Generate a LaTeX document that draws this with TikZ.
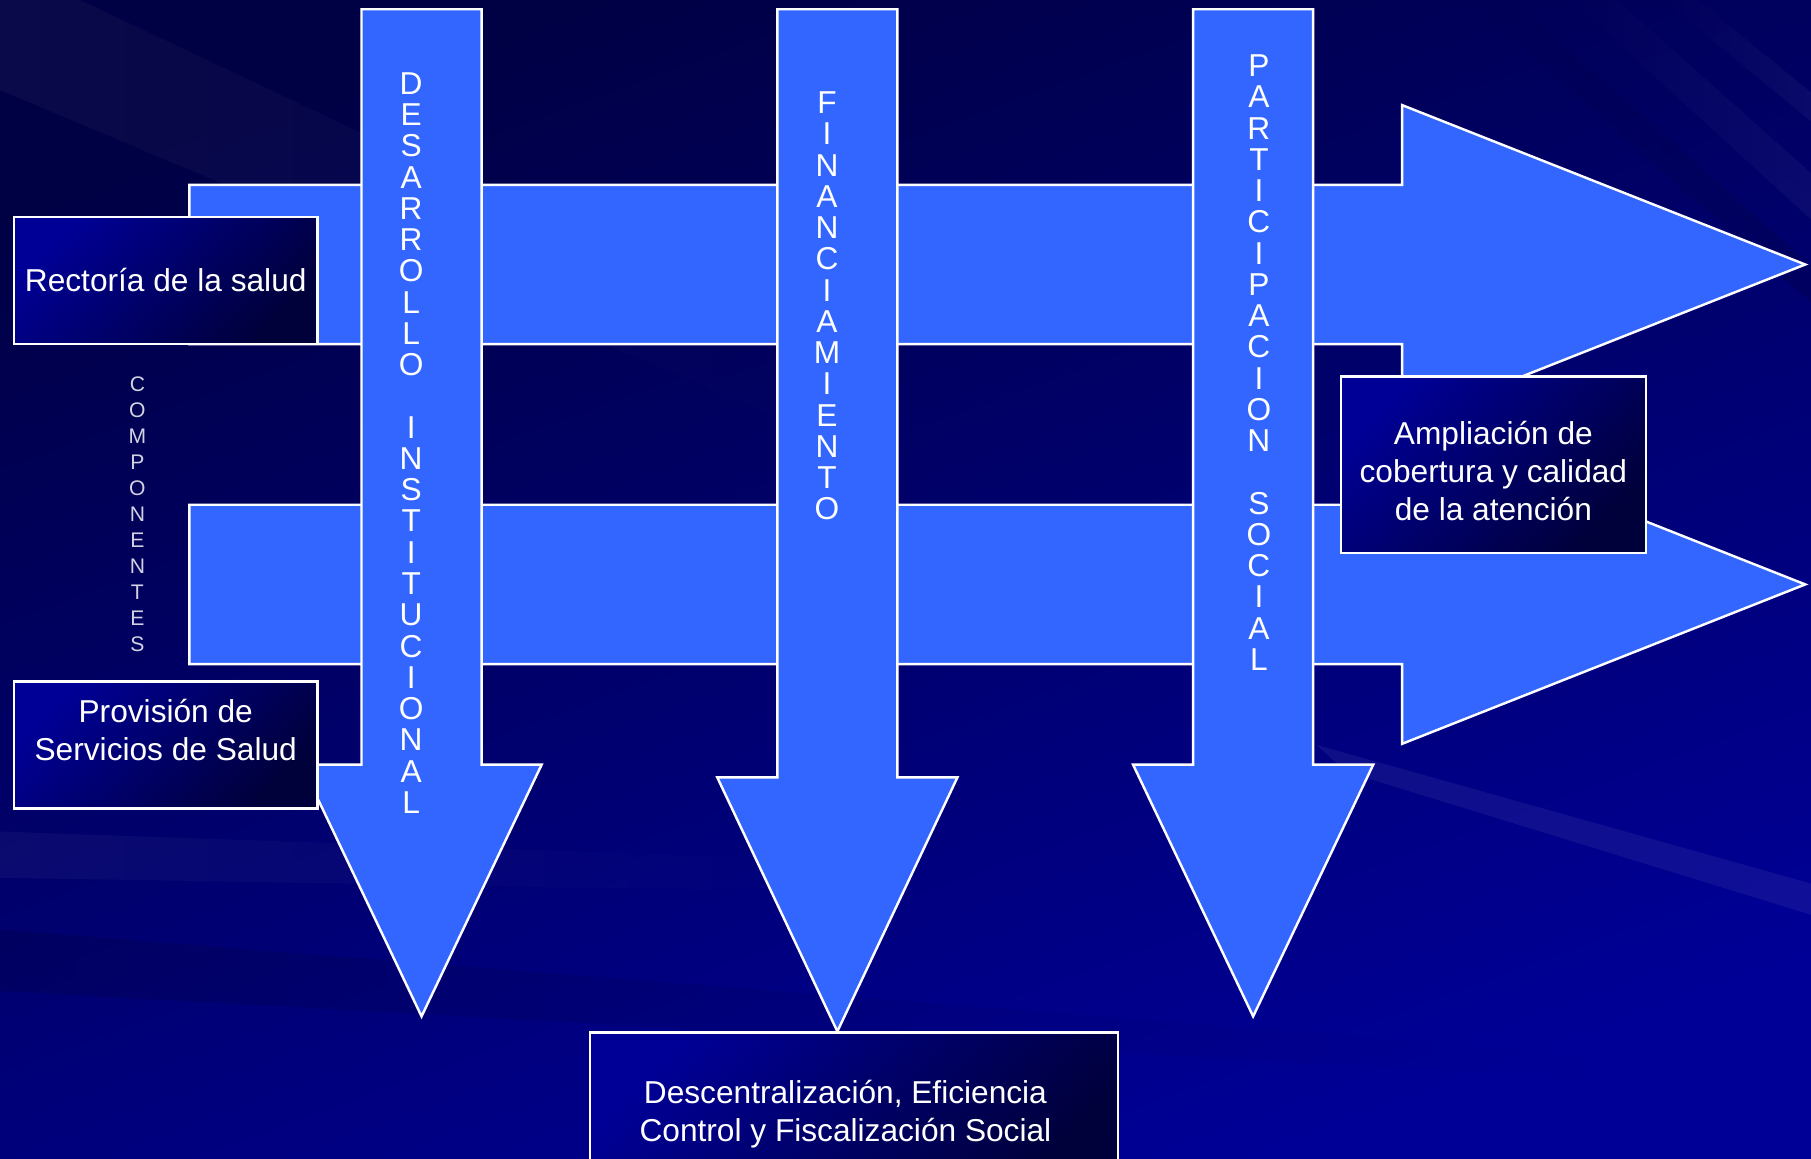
\documentclass[tikz,border=0pt]{standalone}
\usepackage{fontspec}
\setmainfont{Liberation Sans}
\usepackage{tikz}
\usetikzlibrary{
  positioning,
  calc,
  fadings
}
\definecolor{slidedark}{RGB}{0,0,68}
\definecolor{slidemid}{RGB}{0,0,120}
\definecolor{slidelight}{RGB}{0,0,150}
\definecolor{pilarblue}{RGB}{51,102,255}
\definecolor{panelhi}{RGB}{0,0,150}
\definecolor{panello}{RGB}{0,0,58}
\definecolor{letragray}{RGB}{210,210,228}
\tikzfading[name=faderight, left color=transparent!0, right color=transparent!100]
\tikzfading[name=fadeleft, left color=transparent!100, right color=transparent!0]
\tikzset{
  pilar/.style={
    fill=pilarblue, draw=white, line width=0.6pt, line join=miter
  },
  panel/.style={
    rectangle, draw=white, line width=0.6pt, inner sep=0pt,
    top color=panelhi, bottom color=panello, shading angle=45
  },
  paneltext/.style={
    text=white, align=center, inner sep=0pt,
    font=\fontsize{7.8}{9.4}\selectfont
  },
  stacked/.style={
    text=white, align=center, inner sep=0pt,
    font=\fontsize{7.8}{7.7}\selectfont
  },
  stackedsmall/.style={
    text=letragray, align=center, inner sep=0pt,
    font=\fontsize{5.2}{6.4}\selectfont
  },
  streak/.style={fill=white, fill opacity=0.04},
  darkband/.style={fill=black, fill opacity=0.12}
}

\begin{document}
\begin{tikzpicture}[x=0.1mm, y=-0.1mm]
  \useasboundingbox (0,0) rectangle (1568,1003);
  \clip (0,0) rectangle (1568,1003);
  % Background
  \fill[top color=slidedark, middle color=slidemid, bottom color=slidelight,
    shading angle=20] (0,0) rectangle (1568,1003);
  \fill[streak, path fading=faderight]
    (0,0) -- (69,0) -- (725,310) -- (725,383) -- (0,78) -- cycle;
  \fill[streak, path fading=fadeleft]
    (1360,0) -- (1400,0) -- (1568,150) -- (1568,190) -- cycle;
  \fill[streak, path fading=fadeleft]
    (1440,0) -- (1470,0) -- (1568,80) -- (1568,105) -- cycle;
  \fill[darkband, path fading=fadeleft]
    (1270,0) -- (1310,0) -- (1568,230) -- (1568,262) -- cycle;
  \fill[streak, fill opacity=0.06]
    (1140,645) -- (1568,765) -- (1568,792) -- (1165,668) -- cycle;
  \fill[streak, path fading=faderight]
    (0,720) -- (725,745) -- (725,772) -- (0,760) -- cycle;
  \fill[darkband, path fading=faderight]
    (0,805) -- (1400,915) -- (1400,935) -- (0,858) -- cycle;

  % Horizontal arrows (components)
  \foreach \yc in {229,506} {
    \draw[pilar] (164,{\yc-69}) -- (1214,{\yc-69}) -- (1214,{\yc-138})
      -- (1563,\yc) -- (1214,{\yc+138}) -- (1214,{\yc+69})
      -- (164,{\yc+69}) -- cycle;
  }

  % Vertical arrows (axes)
  \foreach \xc/\yb/\yt in {365/662/880, 725/673/893, 1085/662/880} {
    \draw[pilar] ({\xc-52},8) -- ({\xc+52},8) -- ({\xc+52},\yb)
      -- ({\xc+104},\yb) -- (\xc,\yt) -- ({\xc-104},\yb)
      -- ({\xc-52},\yb) -- cycle;
  }

  % Letters on the vertical arrows
  \node[stacked] (desarrollo) at (356,383.5)
    {D\\E\\S\\A\\R\\R\\O\\L\\L\\O\\[7.7pt]I\\N\\S\\T\\I\\T\\U\\C\\I\\O\\N\\A\\L};
  \node[stacked] (financiamiento) at (716,265)
    {F\\I\\N\\A\\N\\C\\I\\A\\M\\I\\E\\N\\T\\O};
  \node[stacked] (participacion) at (1090,314)
    {P\\A\\R\\T\\I\\C\\I\\P\\A\\C\\I\\O\\N\\[7.7pt]S\\O\\C\\I\\A\\L};
  \node[stackedsmall] (componentes) at (119,445)
    {C\\O\\M\\P\\O\\N\\E\\N\\T\\E\\S};

  % Boxes
  \node[panel, minimum width=26.3mm, minimum height=11mm] (rector)
    at (143.5,243) {};
  \node[paneltext] (rectorTxt) at (143.5,242) {Rectoría de la salud};
  \node[panel, minimum width=26.3mm, minimum height=11mm] (provision)
    at (143.5,645) {};
  \node[paneltext] (provisionTxt) at (143.5,632)
    {Provisión de\\Servicios de Salud};
  \node[panel, minimum width=26.4mm, minimum height=15.3mm] (ampliacion)
    at (1293,402.5) {};
  \node[paneltext] (ampliacionTxt) at (1293,408)
    {Ampliación de\\cobertura y calidad\\de la atención};
  \node[panel, minimum width=45.7mm, minimum height=14.1mm] (descentral)
    at (739.5,964.5) {};
  \node[paneltext] (descentralTxt) at (732,964.5)
    {Descentralización, Eficiencia\\Control y Fiscalización Social};
\end{tikzpicture}
\end{document}
